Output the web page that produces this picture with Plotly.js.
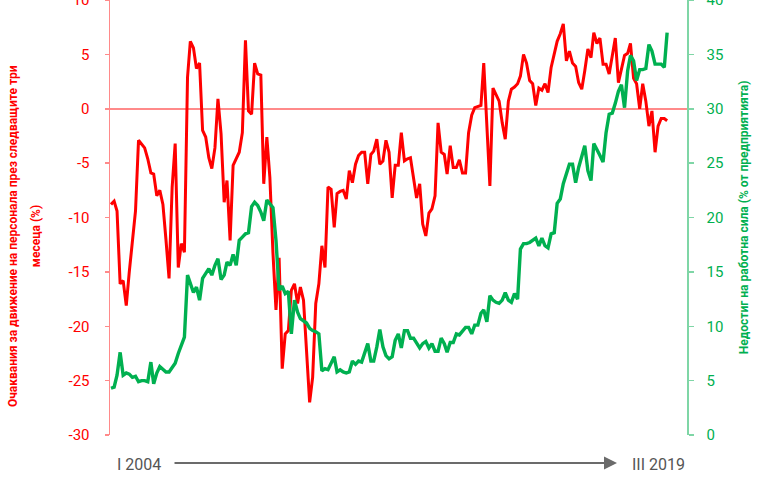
<!DOCTYPE html>
<html>
<head>
<meta charset="utf-8">
<script src="https://cdn.plot.ly/plotly-3.0.1.min.js"></script>
<style>
  html, body { margin: 0; padding: 0; background: #ffffff; }
  #chart { width: 768px; height: 485px; }
</style>
</head>
<body>
<div id="chart"></div>
<script>
// ---- DATA (monthly, I 2004 – III 2019) ----
const startYear = 2004;
const startMonth = 1;

// Expectations for staff movement over the next three months (%), left axis
const expectations = [
  -8.8,-8.5,-9.4,-16.1,-15.8,-18.1,-15.0,-12.1,-9.4,-2.9,
  -3.3,-3.6,-4.6,-5.9,-6.0,-8.0,-7.5,-8.8,-12.0,-15.6,
  -7.2,-3.2,-14.6,-12.4,-13.2,2.9,6.2,5.6,3.7,4.2,
  -2.0,-2.6,-4.5,-5.5,-3.6,0.9,-2.3,-8.6,-6.6,-12.1,
  -5.2,-4.6,-4.0,-2.2,6.3,-0.2,-0.5,4.2,3.2,3.1,
  -6.9,-2.6,-6.3,-13.3,-18.5,-13.7,-23.9,-20.7,-20.4,-16.7,
  -16.1,-17.9,-16.4,-17.6,-22.0,-27.0,-24.7,-17.9,-16.1,-12.6,
  -14.6,-7.2,-7.4,-10.9,-7.8,-7.6,-7.5,-8.3,-5.7,-6.8,
  -5.1,-4.3,-4.0,-4.0,-6.9,-4.2,-3.9,-2.8,-5.1,-4.8,
  -2.9,-4.0,-8.2,-5.2,-5.2,-2.2,-4.8,-4.6,-4.5,-6.6,
  -8.2,-6.9,-10.6,-11.7,-9.6,-9.2,-8.0,-1.3,-4.0,-4.2,
  -6.0,-3.4,-5.4,-5.4,-4.7,-5.9,-5.9,-2.2,-0.6,0.1,
  0.2,0.3,4.2,-1.7,-7.1,1.9,1.3,0.7,-1.3,-2.8,
  0.7,1.8,2.0,2.3,3.0,5.0,4.2,2.6,2.3,0.3,
  1.9,1.7,2.3,1.5,3.8,5.0,6.2,6.9,7.8,4.4,
  5.3,4.2,3.9,2.4,1.8,3.5,5.5,4.7,7.0,6.0,
  6.5,4.1,4.1,3.2,5.0,6.5,2.4,3.8,4.9,5.1,
  6.0,2.8,2.3,0.0,2.3,0.7,-1.6,-0.2,-4.0,-1.6,
  -0.9,-0.9,-1.1
];

// Labour shortage (% of enterprises), right axis
const labourShortage = [
  4.3,4.4,5.5,7.6,5.5,5.7,5.6,5.3,5.4,4.9,
  5.0,5.0,4.9,6.7,4.7,5.7,6.3,6.0,5.8,5.8,
  6.2,6.6,7.5,8.2,9.0,14.7,13.9,13.1,13.6,12.4,
  14.4,14.8,15.3,14.7,15.6,16.2,14.3,14.7,15.9,15.6,
  16.6,15.6,17.9,18.2,18.5,18.6,21.0,21.4,21.1,20.5,
  19.7,21.6,21.2,20.9,17.9,13.3,13.7,13.0,13.2,9.3,
  12.4,11.3,10.7,10.5,10.3,9.8,9.6,9.5,9.3,5.9,
  6.1,6.0,6.6,7.2,5.8,6.0,5.8,5.7,5.8,6.8,
  6.5,6.8,6.7,7.5,8.4,6.8,6.8,8.1,9.7,8.1,
  7.3,7.0,7.2,8.7,9.3,8.0,9.6,9.6,8.9,8.9,
  8.5,8.0,8.4,8.6,8.0,8.4,7.7,7.7,8.9,8.4,
  7.6,8.5,8.5,9.3,9.2,9.6,9.9,9.9,9.3,10.1,
  10.1,11.2,11.5,10.4,12.8,12.4,12.2,12.1,12.4,13.1,
  12.4,12.2,13.0,12.5,17.1,17.6,17.6,17.7,17.9,18.1,
  17.4,18.1,17.4,17.2,18.5,18.6,21.3,21.7,23.1,24.0,
  24.9,24.9,23.2,24.6,25.5,26.6,24.3,23.4,26.8,26.3,
  25.7,25.1,27.8,29.5,29.6,30.5,31.6,32.2,30.1,33.5,
  34.9,34.4,32.6,33.6,33.6,33.7,35.9,35.3,34.1,34.1,
  34.1,33.8,37.0
];

// tick labels
const leftTickVals = [10, 5, 0, -5, -10, -15, -20, -25, -30];
const leftTickText = ["10", "5", "0", "-5", "-10", "-15", "-20", "-25", "-30"];
const rightTickVals = [0, 5, 10, 15, 20, 25, 30, 35, 40];
const rightTickText = ["0", "5", "10", "15", "20", "25", "30", "35", "40"];

const leftTitleLine1 = "Очаквания за движение на персонала през следващите три";
const leftTitleLine2 = "месеца (%)";
const rightTitle = "Недостиг на работна сила (% от предприятията)";
const startLabel = "I 2004";
const endLabel = "III 2019";

// ---- build month dates ----
function monthDate(i) {
  const m0 = (startMonth - 1) + i;
  const y = startYear + Math.floor(m0 / 12);
  const m = (m0 % 12) + 1;
  return y + "-" + String(m).padStart(2, "0") + "-01";
}
const dates = expectations.map((_, i) => monthDate(i));

const RED = "#ff0000";
const GREEN = "#00b050";
const FONT = "Roboto, 'Liberation Sans', sans-serif";

const traces = [
  {
    x: dates, y: labourShortage, yaxis: "y2", type: "scatter", mode: "lines",
    line: { color: GREEN, width: 3.4 }, hoverinfo: "skip"
  },
  {
    x: dates, y: expectations, yaxis: "y", type: "scatter", mode: "lines",
    line: { color: RED, width: 3 }, hoverinfo: "skip"
  }
];

const layout = {
  width: 768, height: 485,
  margin: { l: 110, r: 81, t: 0, b: 50, pad: 0 },
  paper_bgcolor: "#ffffff", plot_bgcolor: "#ffffff",
  showlegend: false,
  font: { family: FONT },
  xaxis: {
    type: "date",
    range: ["2003-12-22", "2019-09-15"],
    showgrid: false, zeroline: false, showline: false,
    showticklabels: false, ticks: ""
  },
  yaxis: {
    range: [-30, 10],
    tickmode: "array", tickvals: leftTickVals, ticktext: leftTickText,
    showgrid: false,
    zeroline: true, zerolinecolor: "#ff8a8a", zerolinewidth: 1.5,
    showline: true, linecolor: "#ff8a8a", linewidth: 1.5,
    ticks: "outside", ticklen: 4, tickcolor: "#ff8a8a", tickwidth: 1.5,
    ticklabelstandoff: 12, ticklabeloverflow: "allow",
    tickfont: { family: FONT, size: 15, color: RED }
  },
  yaxis2: {
    overlaying: "y", side: "right",
    range: [0, 40],
    tickmode: "array", tickvals: rightTickVals, ticktext: rightTickText,
    showgrid: false, zeroline: false,
    showline: true, linecolor: "#7fd6a6", linewidth: 1.5,
    ticks: "outside", ticklen: 5, tickcolor: "#7fd6a6", tickwidth: 1.5,
    ticklabelstandoff: 10, ticklabeloverflow: "allow",
    tickfont: { family: FONT, size: 15, color: GREEN }
  },
  annotations: [
    {
      text: "<b>" + leftTitleLine1 + "</b>", textangle: -90,
      xref: "paper", yref: "paper", x: -0.168, y: 0.4575,
      xanchor: "center", yanchor: "middle", showarrow: false,
      font: { family: FONT, size: 12, color: RED }
    },
    {
      text: "<b>" + leftTitleLine2 + "</b>", textangle: -90,
      xref: "paper", yref: "paper", x: -0.128, y: 0.4575,
      xanchor: "center", yanchor: "middle", showarrow: false,
      font: { family: FONT, size: 12, color: RED }
    },
    {
      text: "<b>" + rightTitle + "</b>", textangle: -90,
      xref: "paper", yref: "paper", x: 1.099, y: 0.501,
      xanchor: "center", yanchor: "middle", showarrow: false,
      font: { family: FONT, size: 12, color: GREEN }
    },
    {
      text: startLabel, xref: "paper", yref: "paper",
      x: 0.0087, y: -0.0667, xanchor: "left", yanchor: "middle",
      showarrow: false, font: { family: FONT, size: 16, color: "#555555" }
    },
    {
      text: endLabel, xref: "paper", yref: "paper",
      x: 0.901, y: -0.0667, xanchor: "left", yanchor: "middle",
      showarrow: false, font: { family: FONT, size: 16, color: "#555555" }
    },
    {
      text: "", xref: "paper", yref: "paper",
      x: 0.8787, y: -0.0644, axref: "pixel", ayref: "pixel",
      ax: -444, ay: 0, showarrow: true,
      arrowhead: 2, arrowsize: 1.3, arrowwidth: 2, arrowcolor: "#6b6b6b",
      standoff: 0, startstandoff: 0
    }
  ]
};

Plotly.newPlot("chart", traces, layout, { staticPlot: true, displayModeBar: false });
</script>
</body>
</html>
